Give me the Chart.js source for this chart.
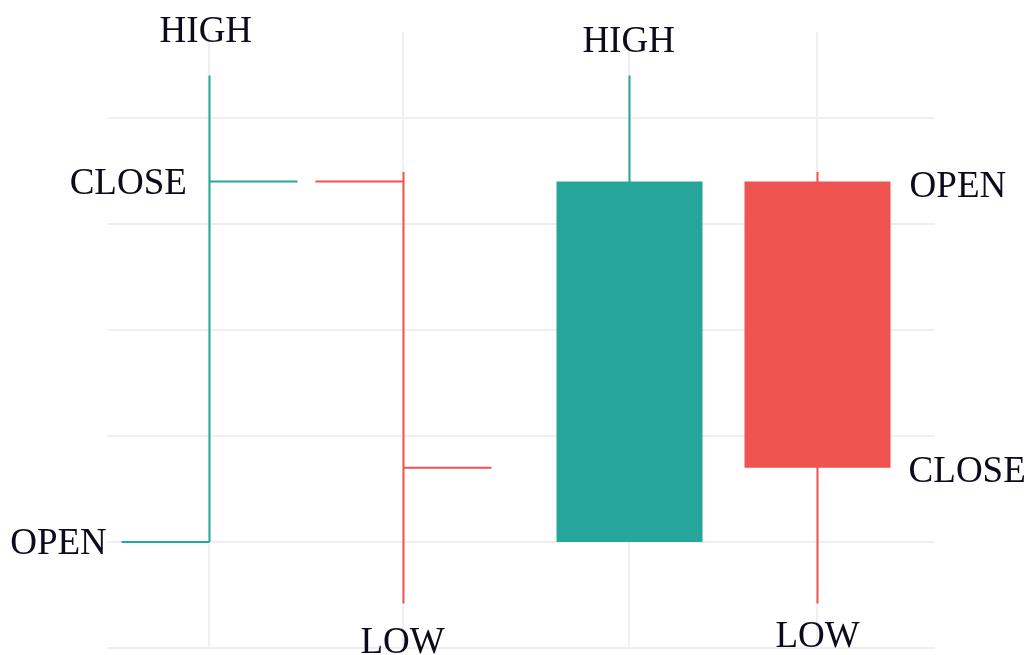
<!DOCTYPE html>
<html>
<head>
<meta charset="utf-8">
<script src="https://cdn.jsdelivr.net/npm/chart.js@4/dist/chart.umd.min.js"></script>
<style>
    html, body { margin: 0; padding: 0; background: #ffffff; }
    #wrap { width: 1030px; height: 655px; }
</style>
</head>
<body>
<div id="wrap"><canvas id="ohlcChart" width="1030" height="655"></canvas></div>
<script>
// Four example bars: two OHLC bars, then two candlesticks
const kinds = ['ohlc', 'ohlc', 'candle', 'candle'];
const xPos  = [1.23, 3.57, 6.30, 8.57];
const opens  = [1.00, 4.40, 1.00, 4.40];
const highs  = [5.40, 4.49, 5.40, 4.49];
const lows   = [1.00, 0.42, 1.00, 0.42];
const closes = [4.40, 1.70, 4.40, 1.70];
const yTicks = [0, 1, 2, 3, 4, 5];

// Labels: text, which bar, which value it names
const labelTexts = ['HIGH', 'CLOSE', 'OPEN', 'LOW', 'HIGH', 'OPEN', 'CLOSE', 'LOW'];
const labelBars  = [0, 0, 0, 1, 2, 3, 3, 3];
const labelKeys  = ['high', 'close', 'open', 'low', 'high', 'open', 'close', 'low'];

const UP = '#26a69a';
const DOWN = '#ef5350';
const TEXT = '#0b0b1c';
const FONT = '37px "Liberation Serif", "Times New Roman", serif';

// label placement (pixel offsets from the value point)
const labelStyle = [
    { align: 'center', dx: -3,   dy: -33 },
    { align: 'right',  dx: -22,  dy: 13 },
    { align: 'right',  dx: -102, dy: 12 },
    { align: 'center', dx: 0,    dy: 50 },
    { align: 'center', dx: 0,    dy: -23 },
    { align: 'left',   dx: 93,   dy: 16 },
    { align: 'left',   dx: 92,   dy: 14 },
    { align: 'center', dx: 1,    dy: 44 }
];

function valueOf(key, i) {
    if (key === 'open') return opens[i];
    if (key === 'high') return highs[i];
    if (key === 'low') return lows[i];
    return closes[i];
}

const financePlugin = {
    id: 'financeBars',
    afterDatasetsDraw(chart) {
        const ctx = chart.ctx;
        const xs = chart.scales.x;
        const ys = chart.scales.y;
        const tick = 88;   // OHLC tick length
        const half = 73;   // half candle body width

        ctx.save();
        kinds.forEach((kind, i) => {
            const color = closes[i] >= opens[i] ? UP : DOWN;
            const x = Math.round(xs.getPixelForValue(xPos[i])) + 0.5;
            const yO = ys.getPixelForValue(opens[i]);
            const yH = ys.getPixelForValue(highs[i]);
            const yL = ys.getPixelForValue(lows[i]);
            const yC = ys.getPixelForValue(closes[i]);
            ctx.strokeStyle = color;
            ctx.fillStyle = color;
            ctx.lineWidth = 2;

            if (kind === 'ohlc') {
                ctx.beginPath();
                ctx.moveTo(x, yH);
                ctx.lineTo(x, yL);
                ctx.moveTo(x - tick, yO);
                ctx.lineTo(x, yO);
                ctx.moveTo(x, yC);
                ctx.lineTo(x + tick, yC);
                ctx.stroke();
            } else {
                ctx.beginPath();
                ctx.moveTo(x, yH);
                ctx.lineTo(x, yL);
                ctx.stroke();
                const top = Math.min(yO, yC);
                const bot = Math.max(yO, yC);
                ctx.fillRect(x - half, top, half * 2, bot - top);
            }
        });

        // text labels
        ctx.font = FONT;
        ctx.fillStyle = TEXT;
        ctx.textBaseline = 'alphabetic';
        labelTexts.forEach((txt, j) => {
            const i = labelBars[j];
            const st = labelStyle[j];
            const x = xs.getPixelForValue(xPos[i]);
            const y = ys.getPixelForValue(valueOf(labelKeys[j], i));
            ctx.textAlign = st.align;
            ctx.fillText(txt, x + st.dx, y + st.dy);
        });
        ctx.restore();
    }
};

new Chart(document.getElementById('ohlcChart'), {
    type: 'scatter',
    data: {
        datasets: [{
            data: xPos.map((x, i) => ({ x: x, y: closes[i] })),
            pointRadius: 0,
            pointHoverRadius: 0
        }]
    },
    options: {
        responsive: false,
        animation: false,
        events: [],
        layout: { padding: { left: 107, right: 95, top: 32, bottom: 7 } },
        plugins: {
            legend: { display: false },
            tooltip: { enabled: false }
        },
        scales: {
            x: {
                type: 'linear',
                min: 0,
                max: 10,
                afterBuildTicks: (axis) => { axis.ticks = xPos.map(v => ({ value: v })); },
                grid: { color: '#efefef', lineWidth: 2, drawTicks: false },
                border: { display: false },
                ticks: { display: false }
            },
            y: {
                type: 'linear',
                min: 0,
                max: 5.81,
                afterBuildTicks: (axis) => { axis.ticks = yTicks.map(v => ({ value: v })); },
                grid: { color: '#efefef', lineWidth: 2, drawTicks: false },
                border: { display: false },
                ticks: { display: false }
            }
        }
    },
    plugins: [financePlugin]
});
</script>
</body>
</html>
